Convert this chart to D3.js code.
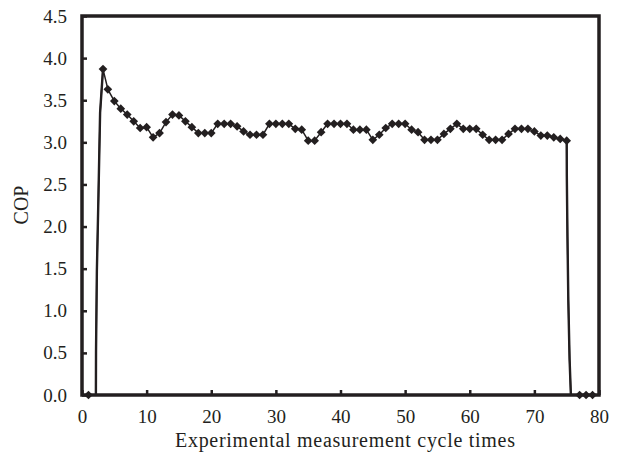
<!DOCTYPE html>
<html>
<head>
<meta charset="utf-8">
<script src="https://cdn.jsdelivr.net/npm/d3@7"></script>
<style>
  html, body { margin: 0; padding: 0; background: #fff; }
  svg { display: block; }
  text { font-family: "Liberation Serif", "DejaVu Serif", serif; fill: #231f20; }
</style>
</head>
<body>
<svg id="chart" width="622" height="461"></svg>
<script>
// ---- data ----
const cycleX = [1, 3.25, 4, 5, 6, 7, 8, 9, 10, 11, 12, 13, 14, 15, 16, 17, 18, 19, 20,
  21, 22, 23, 24, 25, 26, 27, 28, 29, 30, 31, 32, 33, 34, 35, 36, 37, 38, 39, 40,
  41, 42, 43, 44, 45, 46, 47, 48, 49, 50, 51, 52, 53, 54, 55, 56, 57, 58, 59, 60,
  61, 62, 63, 64, 65, 66, 67, 68, 69, 70, 71, 72, 73, 74, 75, 77, 78, 79];
const copValues = [0, 3.87, 3.63, 3.49, 3.40, 3.33, 3.25, 3.17, 3.18, 3.06, 3.11, 3.24, 3.33, 3.32, 3.25, 3.18, 3.11, 3.11, 3.11,
  3.22, 3.22, 3.22, 3.19, 3.13, 3.09, 3.09, 3.09, 3.22, 3.22, 3.22, 3.22, 3.16, 3.15, 3.02, 3.02, 3.12, 3.22, 3.22, 3.22,
  3.22, 3.15, 3.15, 3.15, 3.03, 3.09, 3.17, 3.22, 3.22, 3.22, 3.15, 3.12, 3.03, 3.03, 3.03, 3.10, 3.16, 3.22, 3.16, 3.16,
  3.16, 3.09, 3.03, 3.03, 3.03, 3.10, 3.16, 3.16, 3.16, 3.13, 3.08, 3.08, 3.06, 3.04, 3.02, 0, 0, 0];
// start-up and shut-down transitions (line only, no markers)
const rampUpX = [2.15, 2.17, 2.3, 2.55, 2.8];
const rampUpY = [0, 0.52, 1.47, 2.38, 3.35];
const rampDownX = [75.02, 75.12, 75.25, 75.45, 75.65];
const rampDownY = [2.6, 1.88, 1.13, 0.42, 0];
const xTicks = [0, 10, 20, 30, 40, 50, 60, 70, 80];
const yTicks = [0.0, 0.5, 1.0, 1.5, 2.0, 2.5, 3.0, 3.5, 4.0, 4.5];
const xTitle = "Experimental measurement cycle times";
const yTitle = "COP";

// ---- drawing ----
(function () {
const ink = "#231f20";
const svg = d3.select("#chart");
const mL = 82, mR = 599, mT = 16, mB = 395;
const x = d3.scaleLinear().domain([0, 80]).range([mL, mR]);
const y = d3.scaleLinear().domain([0, 4.5]).range([mB, mT]);

const markers = cycleX.map((v, i) => ({ x: v, y: copValues[i] }));
const pts = markers.concat(
  rampUpX.map((v, i) => ({ x: v, y: rampUpY[i] })),
  rampDownX.map((v, i) => ({ x: v, y: rampDownY[i] }))
).sort((a, b) => a.x - b.x);

const line = d3.line().x(d => x(d.x)).y(d => y(d.y));

// line
svg.append("path")
  .datum(pts)
  .attr("fill", "none")
  .attr("stroke", ink)
  .attr("stroke-width", 1.5)
  .attr("stroke-linejoin", "round")
  .attr("d", line);

// thicker transition strokes
const up = rampUpX.map((v, i) => ({ x: v, y: rampUpY[i] })).concat([markers[1]]);
const down = [markers[markers.length - 4]].concat(rampDownX.map((v, i) => ({ x: v, y: rampDownY[i] })));
[up, down].forEach(seg => {
  svg.append("path").datum(seg)
    .attr("fill", "none").attr("stroke", ink).attr("stroke-width", 2.4)
    .attr("d", line);
});

// markers
const sym = d3.symbol().type(d3.symbolSquare).size(38);
svg.append("g").selectAll("path")
  .data(markers)
  .join("path")
  .attr("d", sym)
  .attr("fill", ink)
  .attr("transform", d => `translate(${x(d.x)},${y(d.y)}) rotate(45)`);

// frame
svg.append("rect")
  .attr("x", mL).attr("y", mT)
  .attr("width", mR - mL).attr("height", mB - mT)
  .attr("fill", "none").attr("stroke", ink).attr("stroke-width", 3.5);

// x axis
const xAxis = d3.axisBottom(x).tickValues(xTicks).tickSizeInner(-5).tickSizeOuter(0).tickPadding(15)
  .tickFormat(d3.format("d"));
const gx = svg.append("g").attr("transform", `translate(0,${mB})`).call(xAxis);
gx.select(".domain").remove();
gx.selectAll(".tick line").attr("stroke", ink).attr("stroke-width", 2.5);
gx.selectAll(".tick text").attr("font-size", 19).attr("fill", ink)
  .style("font-family", '"Liberation Serif", serif');

// y axis
const yAxis = d3.axisLeft(y).tickValues(yTicks).tickSizeInner(-5).tickSizeOuter(0).tickPadding(15)
  .tickFormat(d3.format(".1f"));
const gy = svg.append("g").attr("transform", `translate(${mL},0)`).call(yAxis);
gy.select(".domain").remove();
gy.selectAll(".tick line").attr("stroke", ink).attr("stroke-width", 2.5);
gy.selectAll(".tick text").attr("font-size", 19).attr("fill", ink)
  .style("font-family", '"Liberation Serif", serif');

// titles
svg.append("text")
  .attr("x", 345).attr("y", 447)
  .attr("text-anchor", "middle").attr("font-size", 20)
  .attr("textLength", 340).attr("lengthAdjust", "spacing")
  .text(xTitle);
svg.append("text")
  .attr("transform", `translate(28,205) rotate(-90)`)
  .attr("text-anchor", "middle").attr("font-size", 20)
  .text(yTitle);
})();
</script>
</body>
</html>
